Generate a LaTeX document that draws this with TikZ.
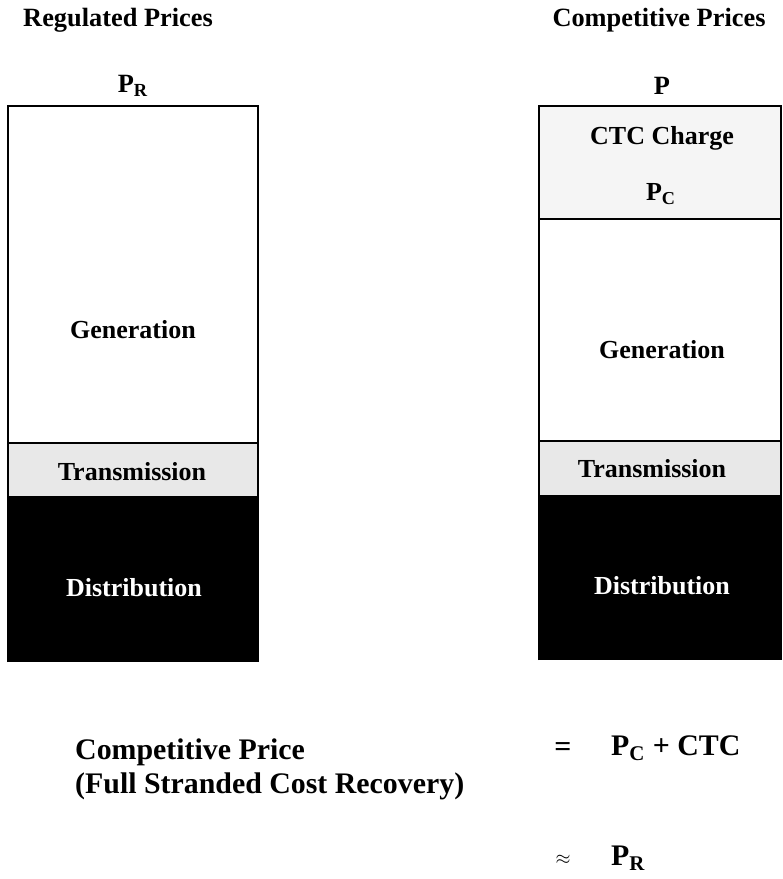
\documentclass[tikz,border=0pt]{standalone}
\usepackage{fontspec}
\setmainfont{Liberation Serif}
\usetikzlibrary{positioning}
\tikzstyle{head}=[font=\bfseries\fontsize{15}{17}\selectfont]
\tikzstyle{band}=[font=\bfseries\fontsize{14.8}{17}\selectfont]
\tikzstyle{big}=[font=\bfseries\fontsize{17}{20}\selectfont]
\tikzstyle{outline}=[draw,line width=1pt]

\begin{document}
\begin{tikzpicture}[x=0.02cm,y=-0.02cm]
    \useasboundingbox (0,0) rectangle (783,879);
    % titles and price levels
    \node[head] (regtitle) at (118,20) {Regulated Prices};
    \node[head] (comptitle) at (659,20) {Competitive Prices};
    \node[head] (pr) at (133,86) {P\textsubscript{R}};
    \node[head] (p) at (662,86) {P};

    % regulated price stack
    \fill[black!9] (8,443) rectangle (258,496);
    \fill[black] (8,496) rectangle (258,662);
    \draw[outline] (8,662) -- (8,106) -- (258,106) -- (258,662);
    \draw[outline] (8,443) -- (258,443);
    \node[band] (rgen) at (133,330) {Generation};
    \node[band] (rtrans) at (132,472) {Transmission};
    \node[band,text=white] (rdist) at (134,588) {Distribution};

    % competitive price stack
    \fill[black!4] (539,106) rectangle (781,219);
    \fill[black!9] (539,441) rectangle (781,495);
    \fill[black] (539,495) rectangle (781,660);
    \draw[outline] (539,660) -- (539,106) -- (781,106) -- (781,660);
    \draw[outline] (539,219) -- (781,219);
    \draw[outline] (539,441) -- (781,441);
    \node[band] (ctc) at (662,138) {CTC Charge};
    \node[band] (pc) at (661,194) {P\textsubscript{C}};
    \node[band] (cgen) at (662,350) {Generation};
    \node[band] (ctrans) at (652,469) {Transmission};
    \node[band,text=white] (cdist) at (662,586) {Distribution};

    % recovery equation
    \node[big,anchor=west] (cp) at (69,752) {Competitive Price};
    \node[big,anchor=west] (fscr) at (69,786) {(Full Stranded Cost Recovery)};
    \node[big] (eq) at (563,750) {=};
    \node[big,anchor=west] (sum) at (605,748) {P\textsubscript{C} + CTC};
    \node[font=\bfseries\fontsize{11}{13}\selectfont] (approx) at (563,860) {$\approx$};
    \node[big,anchor=west] (res) at (605,858) {P\textsubscript{R}};
\end{tikzpicture}
\end{document}
